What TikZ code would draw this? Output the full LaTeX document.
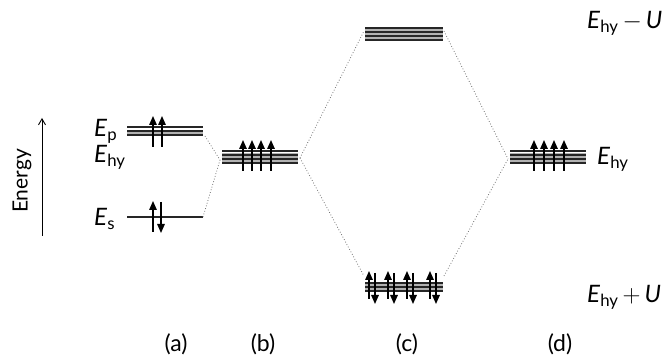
\documentclass[tikz,border=0pt]{standalone}
\usepackage{fontspec}
\setmainfont{Lato}
\usetikzlibrary{arrows.meta}
\begin{document}
\begin{tikzpicture}[x=1pt,y=-1pt,
  level/.style={line width=1.2pt,black!85},
  band/.style={fill=black!30,draw=none},
  link/.style={dotted,line width=0.8pt,black!55},
  spinup/.style={line width=1.5pt,-{Triangle[length=9pt,width=7.5pt]}},
  spindown/.style={line width=1.5pt,-{Triangle[length=9pt,width=7.5pt]}},
  lab/.style={font=\fontsize{24}{26}\selectfont,inner sep=0pt},
  panelcap/.style={font=\fontsize{23}{26}\selectfont,inner sep=0pt}]
\useasboundingbox (0,0) rectangle (667,358);

% energy axis
\coordinate (ebot) at (42,236);
\coordinate (etop) at (42,118);
\draw[line width=0.9pt,-{Straight Barb[length=6pt,width=7pt]}] (ebot) -- (etop);
\node[inner sep=0pt,rotate=90,font=\fontsize{21}{24}\selectfont] (energy) at (22,181) {Energy};

% (a) atomic levels
\node[lab,anchor=west] (lEp) at (94,131) {\textit{E}\textsubscript{p}};
\node[lab,anchor=west] (lEhy) at (94,157) {\textit{E}\textsubscript{hy}};
\node[lab,anchor=west] (lEs) at (94,219) {\textit{E}\textsubscript{s}};
\fill[band] (127,130) rectangle (203,134);
\foreach \y in {127,131,135} \draw[level] (127,\y) -- (203,\y);
\coordinate (pR) at (205,136);
\draw[level] (127,217) -- (203,217);
\coordinate (sR) at (203,217);
\draw[spinup] (153,147) -- (153,116);
\draw[spinup] (162,147) -- (162,116);
\draw[spinup] (153,232) -- (153,201);
\draw[spindown] (161,202) -- (161,233);

% (b) hybrid levels
\fill[band] (222,153) rectangle (298,162);
\foreach \y in {151,155,159,163} \draw[level] (222,\y) -- (298,\y);
\coordinate (bL) at (220,160);
\coordinate (bR) at (300,158);
\foreach \x in {243,252,261,271} \draw[spinup] (\x,171) -- (\x,140);

% (c) antibonding and bonding levels
\fill[band] (365,29) rectangle (443,39);
\foreach \y in {28,32,36,40} \draw[level] (365,\y) -- (443,\y);
\coordinate (cTL) at (364,31);
\coordinate (cTR) at (444,31);
\fill[band] (365,284) rectangle (443,292);
\foreach \y in {283,287,291} \draw[level] (365,\y) -- (443,\y);
\coordinate (cBL) at (364,276);
\coordinate (cBR) at (444,276);
\foreach \x in {369,388,407,430} {
  \draw[spinup] (\x,299) -- (\x,271);
  \draw[spindown] (\x+6,273) -- (\x+6,304);
}

% (d) hybrid levels
\fill[band] (510,153) rectangle (586,162);
\foreach \y in {151,155,159,163} \draw[level] (510,\y) -- (586,\y);
\coordinate (dL) at (508,159);
\foreach \x in {534,544,554,564} \draw[spinup] (\x,171) -- (\x,140);

% correlations between levels
\draw[link] (pR) -- (bL);
\draw[link] (sR) -- (bL);
\draw[link] (bR) -- (cTL);
\draw[link] (bR) -- (cBL);
\draw[link] (cTR) -- (dL);
\draw[link] (cBR) -- (dL);

% right-hand labels
\node[lab,anchor=west] (rU) at (587,23) {\textit{E}\textsubscript{hy}\,$-$\,\textit{U}};
\node[lab,anchor=west] (rhy) at (597,159) {\textit{E}\textsubscript{hy}};
\node[lab,anchor=west] (rL) at (587,297) {\textit{E}\textsubscript{hy}\,$+$\,\textit{U}};

% panel captions
\node[panelcap] (ca) at (176,344) {(a)};
\node[panelcap] (cb) at (263,344) {(b)};
\node[panelcap] (cc) at (407,344) {(c)};
\node[panelcap] (cd) at (560,344) {(d)};
\end{tikzpicture}
\end{document}
